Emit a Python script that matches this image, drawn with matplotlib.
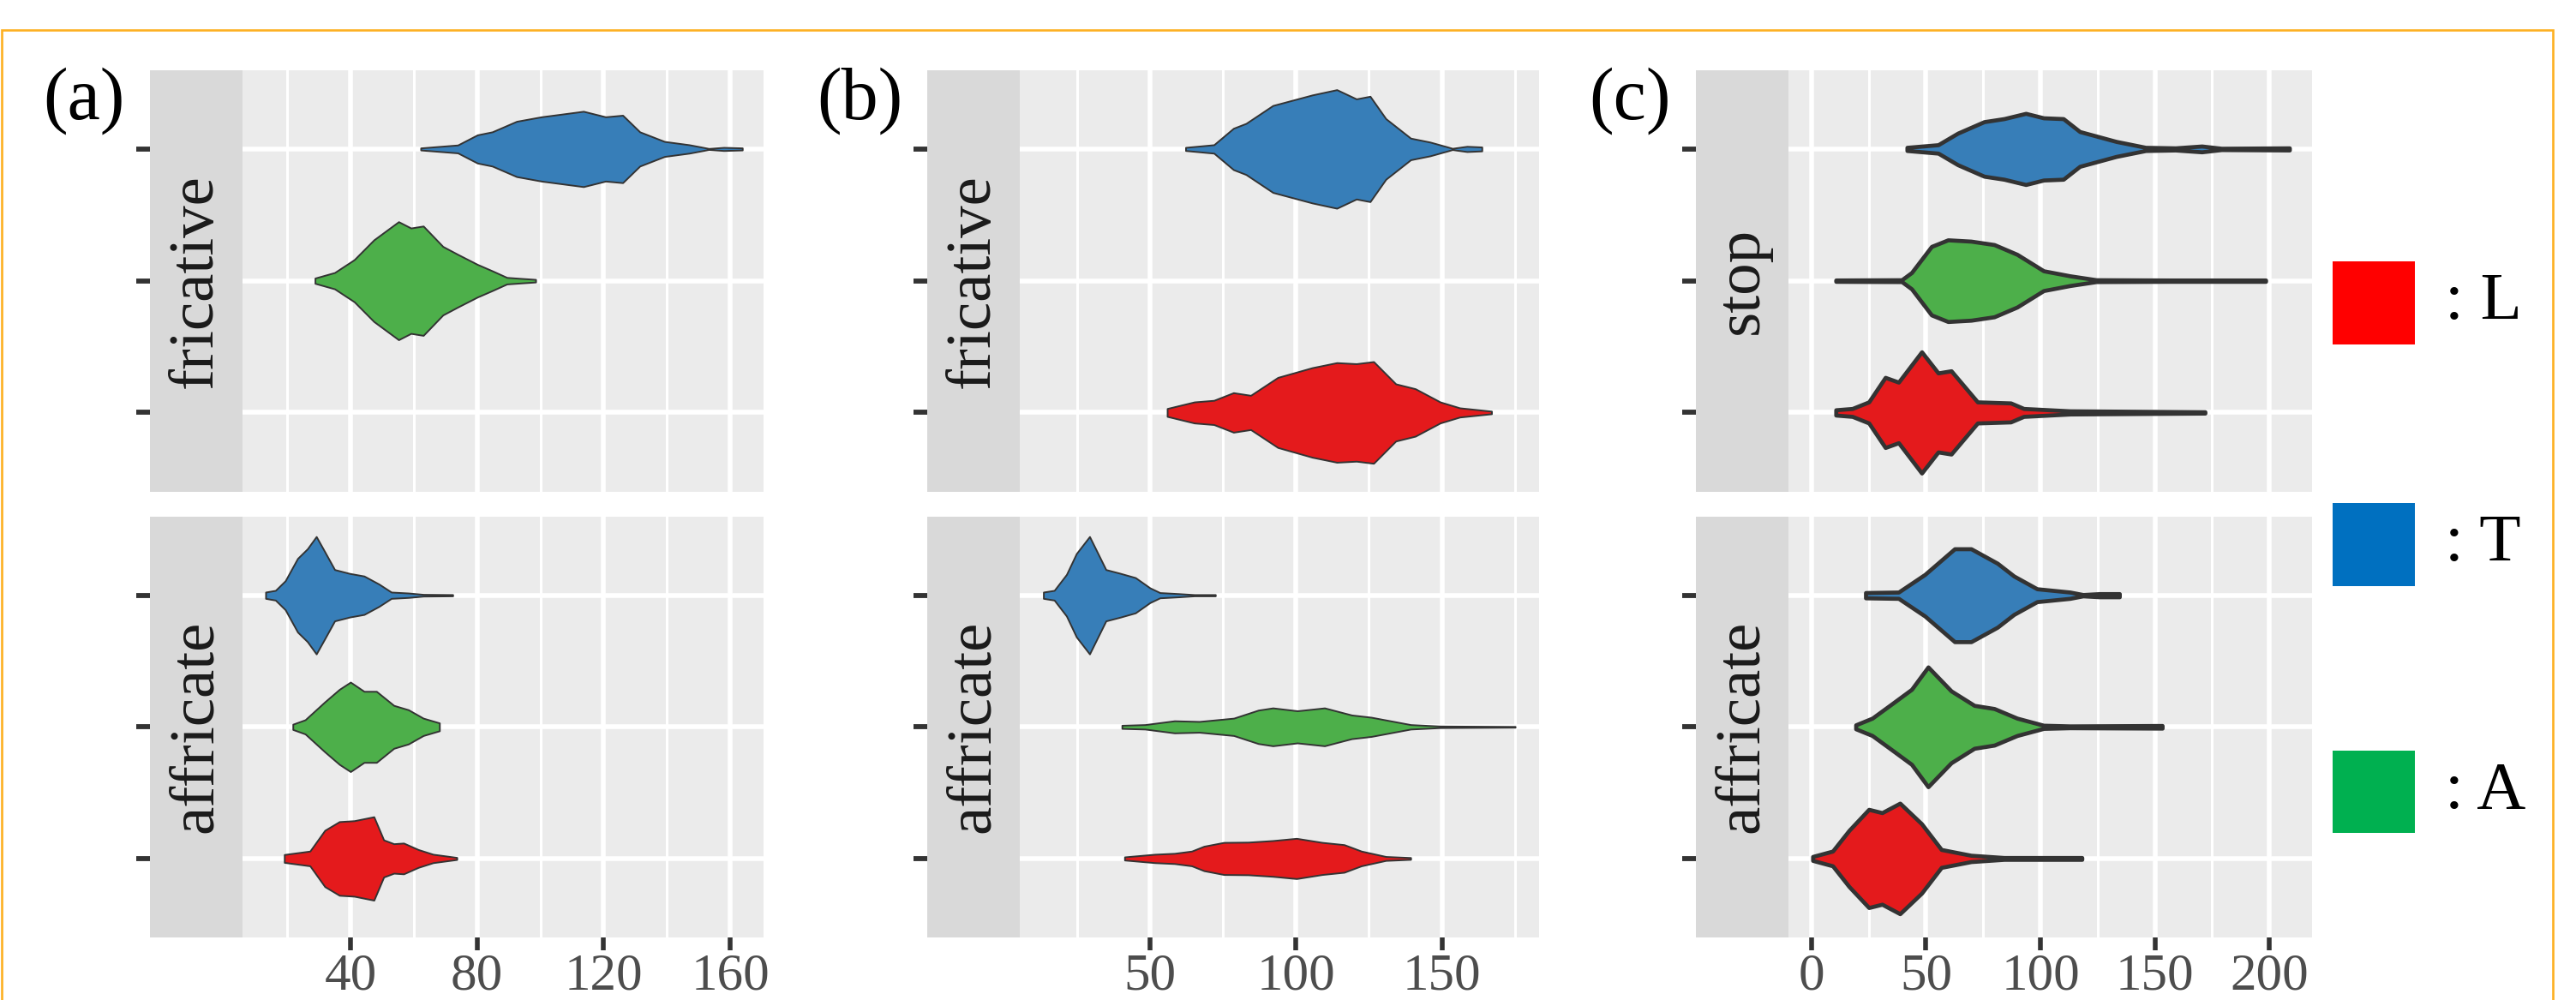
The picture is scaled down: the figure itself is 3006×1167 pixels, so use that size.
import matplotlib
matplotlib.use("Agg")
import matplotlib.pyplot as plt
from matplotlib.patches import Rectangle

W, H, DPI = 3006, 1167, 100
SERIF = ["Liberation Serif", "DejaVu Serif"]

# ---------------- data ----------------
groups = ["L", "A", "T"]            # y positions 1, 2, 3
fill_colors = {"L": "#E41A1C", "A": "#4DAF4A", "T": "#377EB8"}
legend_colors = {"L": "#FF0000", "T": "#0070C0", "A": "#00B050"}
legend_order = ["L", "T", "A"]

panel_labels = ["(a)", "(b)", "(c)"]
row_labels = [["fricative", "affricate"], ["fricative", "affricate"], ["stop", "affricate"]]
x_major = [[40, 80, 120, 160], [50, 100, 150], [0, 50, 100, 150, 200]]
x_minor = [[20, 60, 100, 140], [25, 75, 125, 175], [25, 75, 125, 175]]
x_limits = [(5.9, 170.5), (5.4, 183.3), (-10.1, 218.7)]

# violin outlines: value along x, half-width (category units)
a_fric_T_val = [62.2, 73.9, 80.1, 84.8, 92.5, 100.3, 113.6, 120.6, 126.0, 131.4, 139.2, 147.0, 153.2, 157.9, 163.8]
a_fric_T_hw  = [0.008, 0.030, 0.107, 0.130, 0.210, 0.244, 0.286, 0.244, 0.256, 0.130, 0.057, 0.032, 0.004, 0.012, 0.008]
a_fric_A_val = [28.8, 35.0, 41.2, 47.4, 55.2, 59.1, 63.0, 69.2, 73.9, 80.1, 84.8, 89.4, 94.1, 98.5]
a_fric_A_hw  = [0.020, 0.062, 0.160, 0.310, 0.448, 0.400, 0.415, 0.260, 0.200, 0.124, 0.075, 0.025, 0.017, 0.010]
a_aff_T_val = [13.2, 16.3, 19.4, 23.3, 26.4, 29.2, 31.9, 35.0, 39.7, 44.3, 49.0, 52.9, 58.3, 63.0, 72.3]
a_aff_T_hw  = [0.024, 0.037, 0.110, 0.280, 0.353, 0.446, 0.330, 0.195, 0.166, 0.146, 0.085, 0.024, 0.017, 0.007, 0.005]
a_aff_A_val = [21.8, 25.7, 31.9, 36.5, 40.0, 44.3, 48.2, 53.7, 58.3, 63.0, 68.1]
a_aff_A_hw  = [0.020, 0.054, 0.190, 0.285, 0.340, 0.270, 0.270, 0.163, 0.130, 0.066, 0.030]
a_aff_L_val = [19.1, 27.2, 31.9, 36.5, 41.2, 47.4, 50.5, 53.7, 56.8, 61.4, 66.1, 73.6]
a_aff_L_hw  = [0.030, 0.056, 0.214, 0.280, 0.287, 0.317, 0.141, 0.112, 0.117, 0.068, 0.032, 0.008]

b_fric_T_val = [62.2, 71.9, 78.6, 82.9, 92.1, 105.6, 114.0, 120.7, 125.4, 130.8, 139.3, 146.0, 153.6, 158.6, 163.7]
b_fric_T_hw  = [0.012, 0.032, 0.157, 0.194, 0.330, 0.410, 0.450, 0.380, 0.400, 0.230, 0.082, 0.052, 0.005, 0.020, 0.015]
b_fric_L_val = [55.9, 65.2, 71.9, 78.6, 84.5, 93.8, 105.6, 114.0, 120.7, 126.6, 134.2, 140.9, 149.4, 156.1, 167.0]
b_fric_L_hw  = [0.030, 0.080, 0.092, 0.150, 0.130, 0.266, 0.340, 0.378, 0.370, 0.386, 0.217, 0.180, 0.080, 0.035, 0.010]
b_aff_T_val = [13.5, 17.2, 21.4, 24.8, 29.3, 34.9, 39.9, 45.0, 50.0, 53.4, 60.1, 65.2, 72.4]
b_aff_T_hw  = [0.024, 0.037, 0.158, 0.317, 0.446, 0.195, 0.166, 0.134, 0.056, 0.020, 0.012, 0.005, 0.005]
b_aff_A_val = [40.4, 48.3, 58.4, 66.9, 78.7, 87.1, 92.1, 100.5, 109.8, 119.1, 125.8, 139.3, 149.4, 175.1]
b_aff_A_hw  = [0.012, 0.017, 0.046, 0.041, 0.066, 0.127, 0.144, 0.122, 0.144, 0.090, 0.073, 0.017, 0.006, 0.003]
b_aff_L_val = [41.3, 51.7, 58.4, 64.3, 68.5, 75.3, 83.7, 92.1, 100.2, 109.0, 116.5, 122.4, 130.8, 139.3]
b_aff_L_hw  = [0.012, 0.032, 0.039, 0.056, 0.093, 0.122, 0.124, 0.136, 0.153, 0.122, 0.105, 0.056, 0.015, 0.007]

c_stop_T_val = [41.7, 55.3, 63.9, 75.4, 84.1, 93.6, 101.4, 110.0, 117.2, 133.1, 146.0, 159.0, 170.5, 179.1, 208.8]
c_stop_T_hw  = [0.012, 0.032, 0.120, 0.207, 0.230, 0.270, 0.236, 0.230, 0.132, 0.057, 0.012, 0.008, 0.022, 0.005, 0.008]
c_stop_A_val = [10.6, 39.4, 43.7, 52.4, 59.6, 69.7, 79.8, 89.8, 101.4, 112.9, 124.4, 156.1, 198.4]
c_stop_A_hw  = [0.005, 0.007, 0.062, 0.260, 0.310, 0.300, 0.274, 0.200, 0.075, 0.037, 0.007, 0.005, 0.005]
c_stop_L_val = [10.6, 17.8, 25.0, 32.2, 38.0, 48.1, 55.3, 61.0, 72.5, 87.0, 92.7, 112.9, 171.9]
c_stop_L_hw  = [0.020, 0.030, 0.080, 0.266, 0.230, 0.460, 0.300, 0.316, 0.080, 0.072, 0.030, 0.012, 0.005]
c_aff_T_val = [23.6, 38.0, 49.5, 62.5, 69.7, 81.2, 88.4, 98.5, 112.9, 118.6, 125.8, 134.5]
c_aff_T_hw  = [0.020, 0.024, 0.158, 0.353, 0.353, 0.243, 0.146, 0.049, 0.024, 0.005, 0.012, 0.012]
c_aff_A_val = [19.3, 26.5, 35.1, 43.7, 50.9, 61.0, 71.1, 79.8, 89.8, 101.4, 112.9, 153.2]
c_aff_A_hw  = [0.015, 0.066, 0.175, 0.285, 0.455, 0.273, 0.163, 0.139, 0.066, 0.012, 0.007, 0.010]
c_aff_L_val = [0.5, 9.2, 16.4, 25.0, 30.8, 38.6, 48.1, 56.7, 69.7, 84.1, 118.1]
c_aff_L_hw  = [0.015, 0.056, 0.214, 0.373, 0.348, 0.420, 0.263, 0.068, 0.024, 0.007, 0.007]

# (column, row, group, values, half-widths)
violins = [
    (0, 0, "T", a_fric_T_val, a_fric_T_hw), (0, 0, "A", a_fric_A_val, a_fric_A_hw),
    (0, 1, "T", a_aff_T_val, a_aff_T_hw), (0, 1, "A", a_aff_A_val, a_aff_A_hw),
    (0, 1, "L", a_aff_L_val, a_aff_L_hw),
    (1, 0, "T", b_fric_T_val, b_fric_T_hw), (1, 0, "L", b_fric_L_val, b_fric_L_hw),
    (1, 1, "T", b_aff_T_val, b_aff_T_hw), (1, 1, "A", b_aff_A_val, b_aff_A_hw),
    (1, 1, "L", b_aff_L_val, b_aff_L_hw),
    (2, 0, "T", c_stop_T_val, c_stop_T_hw), (2, 0, "A", c_stop_A_val, c_stop_A_hw),
    (2, 0, "L", c_stop_L_val, c_stop_L_hw),
    (2, 1, "T", c_aff_T_val, c_aff_T_hw), (2, 1, "A", c_aff_A_val, c_aff_A_hw),
    (2, 1, "L", c_aff_L_val, c_aff_L_hw),
]

# ---------------- layout (pixels) ----------------
col_strip = [(175, 283), (1082, 1190), (1979, 2087)]
col_panel = [(283, 891), (1190, 1796), (2087, 2698)]
rows_y = [(81.6, 573.6), (602.5, 1094.0)]
edge_lw = [1.4, 1.4, 3.4]


def rect(x0, y0, x1, y1):
    return [x0 / W, 1 - y1 / H, (x1 - x0) / W, (y1 - y0) / H]


fig = plt.figure(figsize=(W / DPI, H / DPI), dpi=DPI)
fig.patch.set_facecolor("white")

axes = {}
for c in range(3):
    for r in range(2):
        y0, y1 = rows_y[r]
        # strip (between the y axis and the panel)
        s0, s1 = col_strip[c]
        axs = fig.add_axes(rect(s0, y0, s1, y1))
        axs.set_facecolor("#D9D9D9")
        for sp in axs.spines.values():
            sp.set_visible(False)
        axs.set_xlim(0, 1)
        axs.set_ylim(0.4, 3.6)
        axs.set_xticks([])
        axs.set_yticks([1, 2, 3])
        axs.set_yticklabels([])
        axs.tick_params(axis="y", length=11.5, width=4.2, color="#333333")
        axs.text(0.5, 0.5, row_labels[c][r], rotation=90, transform=axs.transAxes,
                 ha="center", va="center", fontsize=54, family=SERIF, color="#1A1A1A")

        p0, p1 = col_panel[c]
        ax = fig.add_axes(rect(p0, y0, p1, y1))
        ax.set_facecolor("#EBEBEB")
        for sp in ax.spines.values():
            sp.set_visible(False)
        ax.set_xlim(*x_limits[c])
        ax.set_ylim(0.4, 3.6)
        ax.set_xticks(x_major[c])
        ax.set_xticks(x_minor[c], minor=True)
        ax.set_yticks([1, 2, 3])
        ax.set_yticklabels([])
        ax.tick_params(axis="y", length=0)
        ax.tick_params(axis="x", which="minor", length=0)
        ax.grid(which="major", color="white", lw=4.0)
        ax.grid(which="minor", axis="x", color="white", lw=2.2)
        ax.set_axisbelow(True)
        if r == 0:
            ax.tick_params(axis="x", which="major", length=0, labelbottom=False)
        else:
            ax.tick_params(axis="x", which="major", length=11, width=4.0, color="#333333",
                           pad=2, labelsize=44, labelcolor="#4D4D4D")
            for lab in ax.get_xticklabels():
                lab.set_family(SERIF)
        axes[(c, r)] = ax

for c, r, g, vals, hws in violins:
    ax = axes[(c, r)]
    yc = groups.index(g) + 1
    lo = [yc - h for h in hws]
    hi = [yc + h for h in hws]
    ax.fill_between(vals, lo, hi, facecolor=fill_colors[g], edgecolor="#333333",
                    lw=edge_lw[c], zorder=3, joinstyle="round", capstyle="round")

# panel labels
label_x = [97.5, 1003, 1902]
for c in range(3):
    fig.text(label_x[c] / W, 1 - 117.5 / H, panel_labels[c], ha="center", va="center",
             fontsize=62, family=SERIF, color="black")

# legend
leg_y = {"L": (305, 402), "T": (587, 684), "A": (876, 972)}
for g in legend_order:
    y0, y1 = leg_y[g]
    fig.patches.append(Rectangle((2722 / W, 1 - y1 / H), (2818 - 2722) / W, (y1 - y0) / H,
                                 transform=fig.transFigure, facecolor=legend_colors[g],
                                 edgecolor="none"))
    fig.text(2853 / W, 1 - (y0 + y1) / 2 / H, ": " + g, ha="left", va="center",
             fontsize=57, family=SERIF, color="black")

# orange frame
fig.patches.append(Rectangle((2.2 / W, -0.02), (2978.5 - 2.2) / W, (1 - 34.5 / H) + 0.02,
                             transform=fig.transFigure, fill=False, edgecolor="#FDB022",
                             lw=1.9))

fig.savefig("out.png", dpi=DPI, facecolor="white")
